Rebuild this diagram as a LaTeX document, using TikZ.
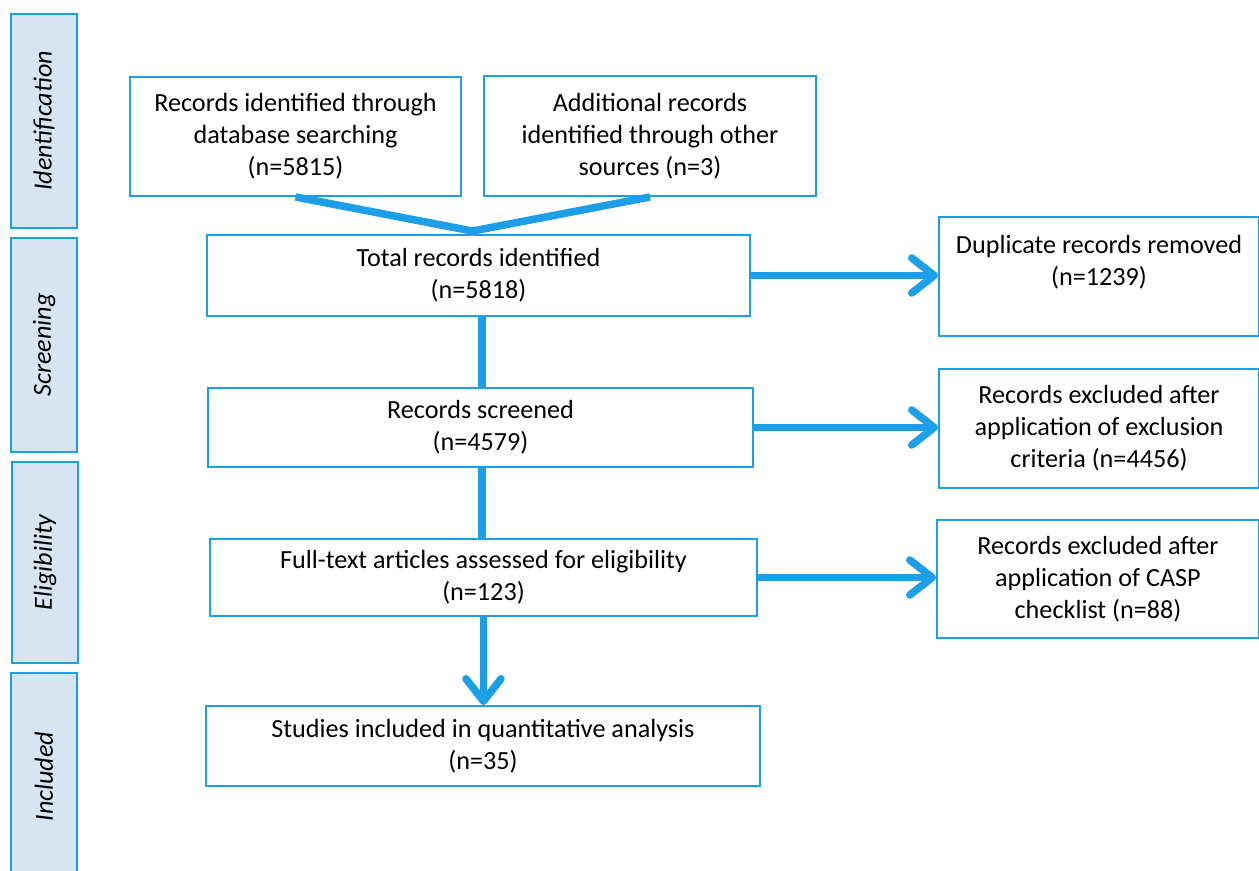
\documentclass[tikz,border=0pt]{standalone}
\usepackage{fontspec}
\setmainfont{Carlito}
\usetikzlibrary{arrows.meta}
\definecolor{lineblue}{HTML}{1C9FE6}
\definecolor{phasefill}{HTML}{D7E4F2}
\begin{document}
\begin{tikzpicture}[x=0.02cm,y=-0.02cm,>={Straight Barb[length=0.45cm,width=0.7cm,round]},font=\fontsize{14.9}{18.2}\selectfont,
	box/.style={draw=lineblue,line width=1.1pt,align=center,inner sep=0pt},
	phase/.style={draw=lineblue,fill=phasefill,line width=1.5pt,rotate=90,minimum height=1.32cm,font=\fontsize{14.9}{18.2}\selectfont\itshape},
	link/.style={lineblue,line width=4.3pt}]
	\useasboundingbox (0,0) rectangle (1259,870);
	\node[phase,minimum width=4.28cm] (ident) at (44,121) {Identification};
	\node[phase,minimum width=4.28cm] (screen) at (44,345) {Screening};
	\node[phase,minimum width=4.02cm] (elig) at (45,562.5) {Eligibility};
	\node[phase,minimum width=4.14cm] (incl) at (44,776.5) {Included};
	\node[box,minimum width=6.62cm,minimum height=2.38cm] (db) at (295.5,136.5) {Records identified through\\database searching\\(n=5815)};
	\node[box,minimum width=6.64cm,minimum height=2.4cm] (addl) at (650,136) {Additional records\\identified through other\\sources (n=3)};
	\node[box,minimum width=10.86cm,minimum height=1.62cm] (total) at (478.5,275.5) {Total records identified\\(n=5818)};
	\node[box,minimum width=6.4cm,minimum height=2.38cm] (dup) at (1099,276.5) {Duplicate records removed\\(n=1239)\\\mbox{}};
	\node[box,minimum width=10.9cm,minimum height=1.58cm] (screened) at (480.5,427.5) {Records screened\\(n=4579)};
	\node[box,minimum width=6.4cm,minimum height=2.38cm] (excl) at (1099,428.5) {Records excluded after\\application of exclusion\\criteria (n=4456)};
	\node[box,minimum width=10.94cm,minimum height=1.54cm] (fulltext) at (483.5,577.5) {Full-text articles assessed for eligibility\\(n=123)};
	\node[box,minimum width=6.44cm,minimum height=2.36cm] (casp) at (1098,579) {Records excluded after\\application of CASP\\checklist (n=88)};
	\node[box,minimum width=11.08cm,minimum height=1.6cm] (studies) at (483,746) {Studies included in quantitative analysis\\(n=35)};
	\coordinate (merge) at ([shift={(-6,-3)}]total.north);
	\draw[link] (db.south) -- (merge) -- (addl.south);
	\draw[link] ([xshift=2pt]total.south) -- ([xshift=2pt]total.south |- screened.north);
	\draw[link] ([xshift=1pt]screened.south) -- ([xshift=1pt]screened.south |- fulltext.north);
	\draw[link,->] (fulltext.south) -- (fulltext.south |- studies.north);
	\draw[link,->] (total.east) -- (total.east -| dup.west);
	\draw[link,->] (screened.east) -- (screened.east -| excl.west);
	\draw[link,->] (fulltext.east) -- (fulltext.east -| casp.west);
\end{tikzpicture}
\end{document}
